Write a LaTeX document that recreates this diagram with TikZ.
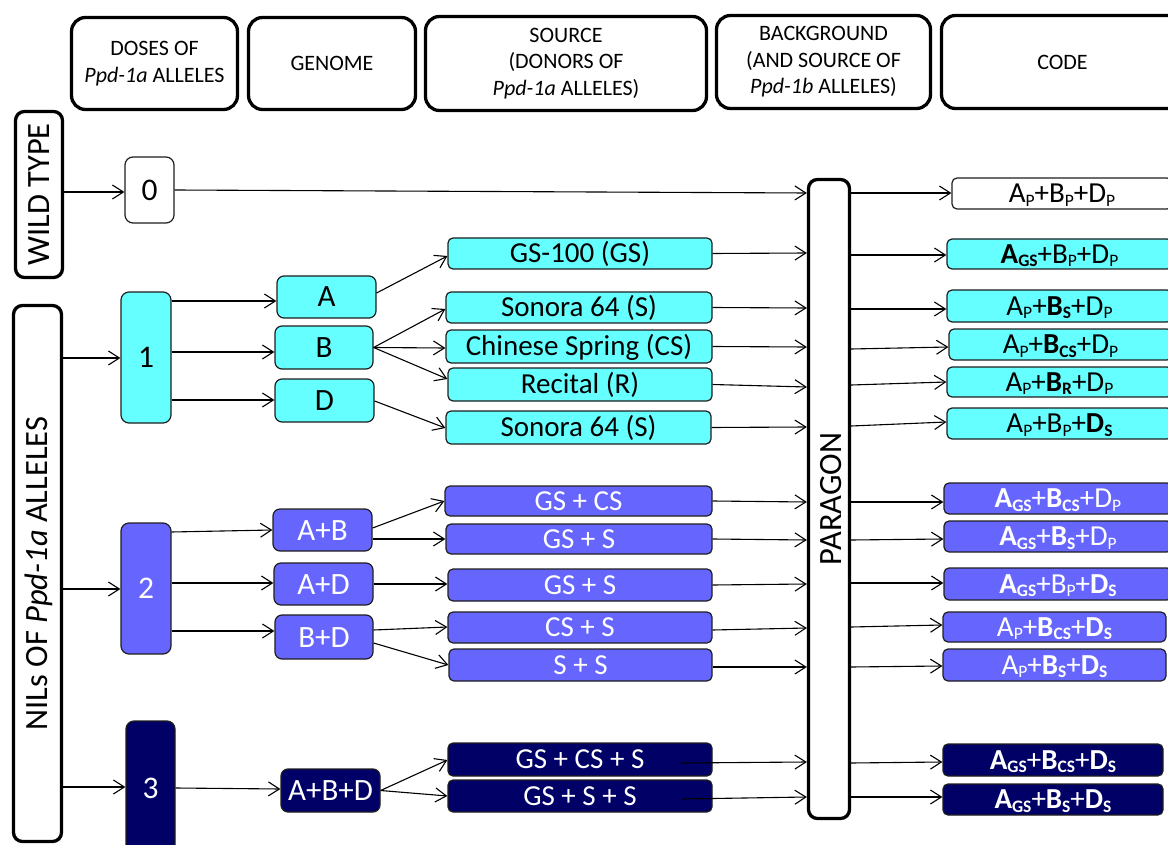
\documentclass[tikz,border=0pt]{standalone}
\usepackage{fontspec}
\setmainfont{Carlito}
\usetikzlibrary{arrows.meta,calc}
\definecolor{cyanf}{RGB}{102,255,255}
\definecolor{purf}{RGB}{102,102,255}
\definecolor{navyf}{RGB}{0,0,102}
\definecolor{edgec}{RGB}{30,30,30}
\newcommand\sbs[1]{\raisebox{-3.5pt}{\fontsize{17.5}{17.5}\selectfont #1}}
\newcommand\nm[2]{#1\sbs{#2}}
\newcommand\bd[2]{\textbf{#1\sbs{#2}}}
\newcommand\rot[2]{\rotatebox{90}{\raisebox{-#1}[0pt][0pt]{#2}}}
\begin{document}
\begin{tikzpicture}[x=1pt,y=-1pt,
  hdr/.style={draw, line width=3.3pt, rounded corners=14pt, align=center, inner sep=0pt,
    font=\fontsize{22}{26.5}\selectfont},
  side/.style={draw, line width=3.3pt, rounded corners=9pt, inner sep=0pt,
    font=\fontsize{32.5}{32.5}\selectfont},
  box/.style={draw=edgec, line width=1.2pt, inner sep=0pt, text depth=0pt},
  dose/.style={box, rounded corners=8pt, font=\fontsize{31.5}{31.5}\selectfont, text height=20.3pt},
  gen/.style={box, rounded corners=7pt, font=\fontsize{31}{31}\selectfont, text height=20pt},
  src/.style={box, rounded corners=5pt, font=\fontsize{29}{29}\selectfont, text height=18.6pt, minimum width=264pt},
  code/.style={box, rounded corners=5pt, font=\fontsize{29}{29}\selectfont, text height=18.6pt},
  cy/.style={fill=cyanf},
  pu/.style={fill=purf, text=white},
  nv/.style={fill=navyf, text=white},
  wh/.style={fill=white},
  arr/.style={line width=1.1pt, -{Straight Barb[length=11pt,width=14pt]}}]
\useasboundingbox (0,0) rectangle (1168,845);
\clip (0,0) rectangle (1168,845);

% headers
\node[hdr, minimum width=166pt, minimum height=92pt] (hdose) at (154.5,63.5) {DOSES OF\\\textit{Ppd-1a} ALLELES};
\node[hdr, minimum width=167pt, minimum height=92pt] (hgen) at (332,63.5) {GENOME};
\node[hdr, minimum width=281pt, minimum height=94pt] (hsrc) at (566,63.5) {SOURCE\\(DONORS OF\\\textit{Ppd-1a} ALLELES)};
\node[hdr, minimum width=214pt, minimum height=93pt] (hbg) at (823.5,62) {BACKGROUND\\(AND SOURCE OF\\\textit{Ppd-1b} ALLELES)};
\node[hdr, minimum width=242pt, minimum height=93pt] (hcode) at (1062.5,62) {CODE};

% side labels
\node[side, minimum width=47pt, minimum height=166pt] (wt) at (39,194.5) {\rot{10pt}{WILD TYPE}};
\node[side, minimum width=48pt, minimum height=536pt] (nils) at (37.5,573.5) {\rot{10pt}{NILs OF \textit{Ppd-1a} ALLELES}};
\node[side, minimum width=41pt, minimum height=639pt] (par) at (829,499) {\rot{12pt}{PARAGON}};

% doses
\node[dose, wh, minimum width=49pt, minimum height=66pt] (d0) at (149.5,190) {0};
\node[dose, cy, minimum width=50pt, minimum height=131pt] (d1) at (146,357.5) {1};
\node[dose, pu, minimum width=50pt, minimum height=131pt] (d2) at (146,588.5) {2};
\node[dose, nv, minimum width=49pt, minimum height=134pt] (d3) at (150.5,788) {3};

% genomes
\node[gen, cy, minimum width=99pt, minimum height=42pt] (gA) at (326.5,297) {A};
\node[gen, cy, minimum width=98pt, minimum height=43pt] (gB) at (324,347.5) {B};
\node[gen, cy, minimum width=99pt, minimum height=43pt] (gD) at (324.5,400.5) {D};
\node[gen, pu, minimum width=99pt, minimum height=42pt] (gAB) at (322.5,530) {A+B};
\node[gen, pu, minimum width=99pt, minimum height=42pt] (gAD) at (323.5,584) {A+D};
\node[gen, pu, minimum width=98pt, minimum height=44pt] (gBD) at (324,637) {B+D};
\node[gen, nv, minimum width=99pt, minimum height=43pt] (gABD) at (330.5,790.5) {A+B+D};

% sources
\node[src, cy, minimum height=31pt] (sGS) at (580,253.5) {GS-100 (GS)};
\node[src, cy, minimum width=266pt, minimum height=31pt] (sS1) at (579,307.5) {Sonora 64 (S)};
\node[src, cy, minimum width=266pt, minimum height=33pt] (sCS) at (579,346.5) {Chinese Spring (CS)};
\node[src, cy, minimum height=33pt] (sR) at (580,384.5) {Recital (R)};
\node[src, cy, minimum width=265pt, minimum height=33pt] (sS2) at (578.5,427.5) {Sonora 64 (S)};
\node[src, pu, minimum width=267pt, minimum height=30pt] (pGSCS) at (578.5,501) {GS + CS};
\node[src, pu, minimum width=266pt, minimum height=30pt] (pGSS) at (579,539) {GS + S};
\node[src, pu, minimum height=32pt] (pGSS2) at (580,585) {GS + S};
\node[src, pu, minimum height=31pt] (pCSS) at (580,627.5) {CS + S};
\node[src, pu, minimum width=263pt, minimum height=32pt] (pSS) at (580.5,665) {S + S};
\node[src, nv, minimum height=33pt] (nGSCSS) at (580,759.5) {GS + CS + S};
\node[src, nv, minimum height=32pt] (nGSSS) at (580,796) {GS + S + S};

% codes
\node[code, wh, minimum width=220pt, minimum height=31pt] (c0) at (1062,193.5) {\nm{A}{P}+\nm{B}{P}+\nm{D}{P}};
\node[code, cy, minimum width=225pt, minimum height=30pt] (c1) at (1059.5,254) {\bd{A}{GS}+\nm{B}{P}+\nm{D}{P}};
\node[code, cy, minimum width=225pt, minimum height=32pt] (c2) at (1059.5,306) {\nm{A}{P}+\bd{B}{S}+\nm{D}{P}};
\node[code, cy, minimum width=223pt, minimum height=31pt] (c3) at (1060.5,344.5) {\nm{A}{P}+\bd{B}{CS}+\nm{D}{P}};
\node[code, cy, minimum width=225pt, minimum height=30pt] (c4) at (1059.5,382) {\nm{A}{P}+\bd{B}{R}+\nm{D}{P}};
\node[code, cy, minimum width=225pt, minimum height=31pt] (c5) at (1059.5,423.5) {\nm{A}{P}+\nm{B}{P}+\bd{D}{S}};
\node[code, pu, minimum width=228pt, minimum height=31pt] (c6) at (1058,498.5) {\bd{A}{GS}+\bd{B}{CS}+\nm{D}{P}};
\node[code, pu, minimum width=228pt, minimum height=31pt] (c7) at (1058,536.5) {\bd{A}{GS}+\bd{B}{S}+\nm{D}{P}};
\node[code, pu, minimum width=228pt, minimum height=32pt] (c8) at (1058,584) {\bd{A}{GS}+\nm{B}{P}+\bd{D}{S}};
\node[code, pu, minimum width=223pt, minimum height=30pt] (c9) at (1054.5,627) {\nm{A}{P}+\bd{B}{CS}+\bd{D}{S}};
\node[code, pu, minimum width=223pt, minimum height=32pt] (c10) at (1054.5,665) {\nm{A}{P}+\bd{B}{S}+\bd{D}{S}};
\node[code, nv, minimum width=220pt, minimum height=32pt] (c11) at (1053,760) {\bd{A}{GS}+\bd{B}{CS}+\bd{D}{S}};
\node[code, nv, minimum width=220pt, minimum height=31pt] (c12) at (1053,799.5) {\bd{A}{GS}+\bd{B}{S}+\bd{D}{S}};

% connectors: wild type
\draw[arr] (wt.east |- 0,192) -- (d0.west |- 0,192);
\draw[arr] (d0.east |- 0,190) -- (par.west |- 0,193);
\draw[arr] (par.east |- 0,193) -- (c0.west |- 0,193);

% one dose
\draw[arr] (nils.east |- 0,358) -- (d1.west |- 0,358);
\draw[arr] (d1.east |- 0,301) -- (gA.west |- 0,301);
\draw[arr] (d1.east |- 0,352) -- (gB.west |- 0,352);
\draw[arr] (d1.east |- 0,400) -- (gD.west |- 0,400);
\draw[arr] (gA.east |- 0,293) -- (sGS.west |- 0,256);
\draw[arr] (gB.east) -- (sS1.west |- 0,309);
\draw[arr] (gB.east) -- (sCS.west |- 0,348);
\draw[arr] (gB.east) -- (sR.west |- 0,379);
\draw[arr] (gD.east |- 0,401) -- (sS2.west |- 0,428);
\draw[arr] (sGS.east) -- (par.west |- 0,253);
\draw[arr] (sS1.east) -- (par.west |- 0,308);
\draw[arr] (sCS.east) -- (par.west |- 0,347);
\draw[arr] (sR.east) -- (par.west |- 0,387);
\draw[arr] (sS2.east) -- (par.west |- 0,427);
\draw[arr] (par.east |- 0,255) -- (c1.west |- 0,255);
\draw[arr] (par.east |- 0,309) -- (c2.west |- 0,309);
\draw[arr] (par.east |- 0,349) -- (c3.west |- 0,347);
\draw[arr] (par.east |- 0,385) -- (c4.west |- 0,382);
\draw[arr] (par.east |- 0,426) -- (c5.west |- 0,422);

% two doses
\draw[arr] (nils.east |- 0,589) -- (d2.west |- 0,589);
\draw[arr] (d2.east |- 0,532) -- (gAB.west |- 0,530);
\draw[arr] (d2.east |- 0,583) -- (gAD.west |- 0,583);
\draw[arr] (d2.east |- 0,631) -- (gBD.west |- 0,631);
\draw[arr] (gAB.east |- 0,528) -- (pGSCS.west |- 0,501);
\draw[arr] (gAB.east |- 0,539) -- (pGSS.west |- 0,539);
\draw[arr] (gAD.east |- 0,584) -- (pGSS2.west |- 0,584);
\draw[arr] (gBD.east |- 0,630) -- (pCSS.west |- 0,627);
\draw[arr] (gBD.east |- 0,643) -- (pSS.west |- 0,665);
\draw[arr] (pGSCS.east) -- (par.west |- 0,502);
\draw[arr] (pGSS.east) -- (par.west |- 0,540);
\draw[arr] (pGSS2.east) -- (par.west |- 0,584);
\draw[arr] (pCSS.east |- 0,630) -- (par.west |- 0,628);
\draw[arr] (pSS.east |- 0,667) -- (par.west |- 0,667);
\draw[arr] (par.east |- 0,502) -- (c6.west |- 0,502);
\draw[arr] (par.east |- 0,540) -- (c7.west |- 0,539);
\draw[arr] (par.east |- 0,583) -- (c8.west |- 0,583);
\draw[arr] (par.east |- 0,627) -- (c9.west |- 0,625);
\draw[arr] (par.east |- 0,667) -- (c10.west |- 0,666);

% three doses
\draw[arr] (nils.east |- 0,787) -- (d3.west |- 0,787);
\draw[arr] (d3.east |- 0,788) -- (gABD.west |- 0,789);
\draw[arr] (gABD.east) -- (nGSCSS.west |- 0,760);
\draw[arr] (gABD.east) -- (nGSSS.west |- 0,796);
\draw[arr] ($(nGSCSS.east)+(-32,3.5)$) -- (par.west |- 0,762);
\draw[arr] ($(nGSSS.east)+(-31,3)$) -- (par.west |- 0,797);
\draw[arr] (par.east |- 0,763) -- (c11.west |- 0,762);
\draw[arr] (par.east |- 0,797) -- (c12.west |- 0,797);
\end{tikzpicture}
\end{document}
